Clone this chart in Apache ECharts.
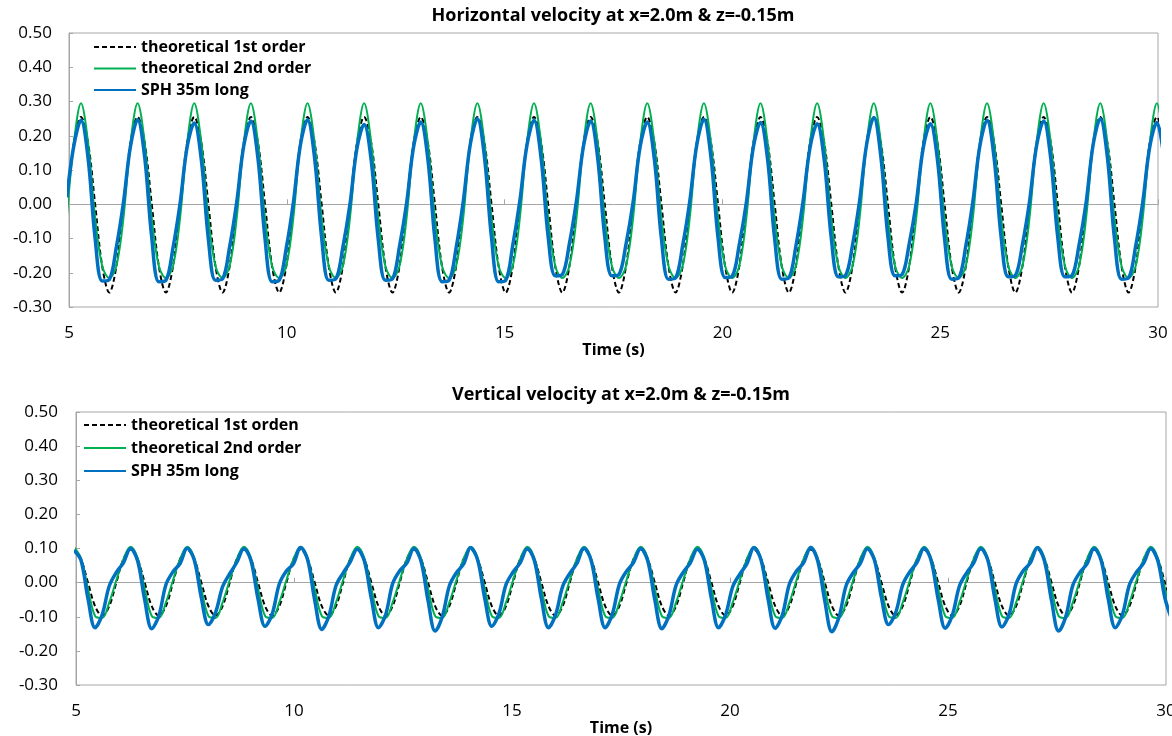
<!DOCTYPE html>
<html>
<head>
<meta charset="utf-8">
<title>Velocity at x=2.0m &amp; z=-0.15m</title>
<script src="https://cdn.jsdelivr.net/npm/echarts/dist/echarts.min.js"></script>
<style>
  html, body { margin: 0; padding: 0; background: #fff; }
  #chart { width: 1172px; height: 736px; }
</style>
</head>
<body>
<div id="chart"></div>
<script>
// time samples (s), one row per wave period (T = 1.3 s)
const time = [
  4.95, 5.1125, 5.275, 5.4375, 5.6, 5.7625, 5.925, 6.0875,
  6.25, 6.4125, 6.575, 6.7375, 6.9, 7.0625, 7.225, 7.3875,
  7.55, 7.7125, 7.875, 8.0375, 8.2, 8.3625, 8.525, 8.6875,
  8.85, 9.0125, 9.175, 9.3375, 9.5, 9.6625, 9.825, 9.9875,
  10.15, 10.3125, 10.475, 10.6375, 10.8, 10.9625, 11.125, 11.2875,
  11.45, 11.6125, 11.775, 11.9375, 12.1, 12.2625, 12.425, 12.5875,
  12.75, 12.9125, 13.075, 13.2375, 13.4, 13.5625, 13.725, 13.8875,
  14.05, 14.2125, 14.375, 14.5375, 14.7, 14.8625, 15.025, 15.1875,
  15.35, 15.5125, 15.675, 15.8375, 16.0, 16.1625, 16.325, 16.4875,
  16.65, 16.8125, 16.975, 17.1375, 17.3, 17.4625, 17.625, 17.7875,
  17.95, 18.1125, 18.275, 18.4375, 18.6, 18.7625, 18.925, 19.0875,
  19.25, 19.4125, 19.575, 19.7375, 19.9, 20.0625, 20.225, 20.3875,
  20.55, 20.7125, 20.875, 21.0375, 21.2, 21.3625, 21.525, 21.6875,
  21.85, 22.0125, 22.175, 22.3375, 22.5, 22.6625, 22.825, 22.9875,
  23.15, 23.3125, 23.475, 23.6375, 23.8, 23.9625, 24.125, 24.2875,
  24.45, 24.6125, 24.775, 24.9375, 25.1, 25.2625, 25.425, 25.5875,
  25.75, 25.9125, 26.075, 26.2375, 26.4, 26.5625, 26.725, 26.8875,
  27.05, 27.2125, 27.375, 27.5375, 27.7, 27.8625, 28.025, 28.1875,
  28.35, 28.5125, 28.675, 28.8375, 29.0, 29.1625, 29.325, 29.4875,
  29.65, 29.8125, 29.975, 30.1375
];

// horizontal velocity (m/s)
const hFirst = [
  0.000, 0.180, 0.255, 0.180, 0.000, -0.181, -0.258, -0.181,
  0.000, 0.180, 0.255, 0.180, 0.000, -0.181, -0.258, -0.181,
  0.000, 0.180, 0.255, 0.180, 0.000, -0.181, -0.258, -0.181,
  0.000, 0.180, 0.255, 0.180, 0.000, -0.181, -0.258, -0.181,
  0.000, 0.180, 0.255, 0.180, 0.000, -0.181, -0.258, -0.181,
  0.000, 0.180, 0.255, 0.180, 0.000, -0.181, -0.258, -0.181,
  0.000, 0.180, 0.255, 0.180, 0.000, -0.181, -0.258, -0.181,
  0.000, 0.180, 0.255, 0.180, 0.000, -0.181, -0.258, -0.181,
  0.000, 0.180, 0.255, 0.180, 0.000, -0.181, -0.258, -0.181,
  0.000, 0.180, 0.255, 0.180, 0.000, -0.181, -0.258, -0.181,
  0.000, 0.180, 0.255, 0.180, 0.000, -0.181, -0.258, -0.181,
  0.000, 0.180, 0.255, 0.180, 0.000, -0.181, -0.258, -0.181,
  0.000, 0.180, 0.255, 0.180, 0.000, -0.181, -0.258, -0.181,
  0.000, 0.180, 0.255, 0.180, 0.000, -0.181, -0.258, -0.181,
  0.000, 0.180, 0.255, 0.180, 0.000, -0.181, -0.258, -0.181,
  0.000, 0.180, 0.255, 0.180, 0.000, -0.181, -0.258, -0.181,
  0.000, 0.180, 0.255, 0.180, 0.000, -0.181, -0.258, -0.181,
  0.000, 0.180, 0.255, 0.180, 0.000, -0.181, -0.258, -0.181,
  0.000, 0.180, 0.255, 0.180, 0.000, -0.181, -0.258, -0.181,
  0.000, 0.180, 0.255, 0.180
];
const hSecond = [
  -0.040, 0.180, 0.295, 0.180, -0.040, -0.180, -0.215, -0.180,
  -0.040, 0.180, 0.295, 0.180, -0.040, -0.180, -0.215, -0.180,
  -0.040, 0.180, 0.295, 0.180, -0.040, -0.180, -0.215, -0.180,
  -0.040, 0.180, 0.295, 0.180, -0.040, -0.180, -0.215, -0.180,
  -0.040, 0.180, 0.295, 0.180, -0.040, -0.180, -0.215, -0.180,
  -0.040, 0.180, 0.295, 0.180, -0.040, -0.180, -0.215, -0.180,
  -0.040, 0.180, 0.295, 0.180, -0.040, -0.180, -0.215, -0.180,
  -0.040, 0.180, 0.295, 0.180, -0.040, -0.180, -0.215, -0.180,
  -0.040, 0.180, 0.295, 0.180, -0.040, -0.180, -0.215, -0.180,
  -0.040, 0.180, 0.295, 0.180, -0.040, -0.180, -0.215, -0.180,
  -0.040, 0.180, 0.295, 0.180, -0.040, -0.180, -0.215, -0.180,
  -0.040, 0.180, 0.295, 0.180, -0.040, -0.180, -0.215, -0.180,
  -0.040, 0.180, 0.295, 0.180, -0.040, -0.180, -0.215, -0.180,
  -0.040, 0.180, 0.295, 0.180, -0.040, -0.180, -0.215, -0.180,
  -0.040, 0.180, 0.295, 0.180, -0.040, -0.180, -0.215, -0.180,
  -0.040, 0.180, 0.295, 0.180, -0.040, -0.180, -0.215, -0.180,
  -0.040, 0.180, 0.295, 0.180, -0.040, -0.180, -0.215, -0.180,
  -0.040, 0.180, 0.295, 0.180, -0.040, -0.180, -0.215, -0.180,
  -0.040, 0.180, 0.295, 0.180, -0.040, -0.180, -0.215, -0.180,
  -0.040, 0.180, 0.295, 0.180
];
const hSph = [
  0.020, 0.172, 0.245, 0.135, -0.100, -0.224, -0.220, -0.125,
  0.005, 0.170, 0.247, 0.137, -0.098, -0.226, -0.222, -0.127,
  0.002, 0.168, 0.237, 0.130, -0.102, -0.222, -0.218, -0.124,
  0.006, 0.171, 0.243, 0.134, -0.100, -0.226, -0.222, -0.128,
  0.004, 0.173, 0.247, 0.136, -0.097, -0.222, -0.218, -0.125,
  0.000, 0.165, 0.233, 0.128, -0.103, -0.222, -0.218, -0.123,
  0.003, 0.169, 0.240, 0.133, -0.101, -0.226, -0.222, -0.127,
  0.007, 0.175, 0.250, 0.138, -0.098, -0.226, -0.222, -0.120,
  0.010, 0.172, 0.245, 0.135, -0.095, -0.209, -0.205, -0.115,
  0.010, 0.171, 0.243, 0.134, -0.096, -0.209, -0.205, -0.116,
  0.006, 0.169, 0.240, 0.132, -0.100, -0.219, -0.215, -0.121,
  0.008, 0.174, 0.248, 0.137, -0.098, -0.214, -0.210, -0.118,
  0.005, 0.168, 0.239, 0.131, -0.101, -0.219, -0.215, -0.122,
  0.007, 0.166, 0.235, 0.129, -0.099, -0.212, -0.208, -0.119,
  0.010, 0.176, 0.253, 0.139, -0.095, -0.209, -0.205, -0.116,
  0.004, 0.166, 0.235, 0.129, -0.100, -0.219, -0.215, -0.122,
  0.008, 0.172, 0.245, 0.135, -0.097, -0.212, -0.208, -0.118,
  0.007, 0.171, 0.243, 0.134, -0.098, -0.212, -0.208, -0.119,
  0.005, 0.175, 0.250, 0.138, -0.099, -0.219, -0.215, -0.122,
  0.006, 0.169, 0.239, 0.132
];

// vertical velocity (m/s)
const vFirst = [
  0.097, 0.069, 0.000, -0.069, -0.097, -0.069, 0.000, 0.069,
  0.097, 0.069, 0.000, -0.069, -0.097, -0.069, 0.000, 0.069,
  0.097, 0.069, 0.000, -0.069, -0.097, -0.069, 0.000, 0.069,
  0.097, 0.069, 0.000, -0.069, -0.097, -0.069, 0.000, 0.069,
  0.097, 0.069, 0.000, -0.069, -0.097, -0.069, 0.000, 0.069,
  0.097, 0.069, 0.000, -0.069, -0.097, -0.069, 0.000, 0.069,
  0.097, 0.069, 0.000, -0.069, -0.097, -0.069, 0.000, 0.069,
  0.097, 0.069, 0.000, -0.069, -0.097, -0.069, 0.000, 0.069,
  0.097, 0.069, 0.000, -0.069, -0.097, -0.069, 0.000, 0.069,
  0.097, 0.069, 0.000, -0.069, -0.097, -0.069, 0.000, 0.069,
  0.097, 0.069, 0.000, -0.069, -0.097, -0.069, 0.000, 0.069,
  0.097, 0.069, 0.000, -0.069, -0.097, -0.069, 0.000, 0.069,
  0.097, 0.069, 0.000, -0.069, -0.097, -0.069, 0.000, 0.069,
  0.097, 0.069, 0.000, -0.069, -0.097, -0.069, 0.000, 0.069,
  0.097, 0.069, 0.000, -0.069, -0.097, -0.069, 0.000, 0.069,
  0.097, 0.069, 0.000, -0.069, -0.097, -0.069, 0.000, 0.069,
  0.097, 0.069, 0.000, -0.069, -0.097, -0.069, 0.000, 0.069,
  0.097, 0.069, 0.000, -0.069, -0.097, -0.069, 0.000, 0.069,
  0.097, 0.069, 0.000, -0.069, -0.097, -0.069, 0.000, 0.069,
  0.097, 0.069, 0.000, -0.069
];
const vSecond = [
  0.105, 0.072, -0.018, -0.098, -0.104, -0.058, 0.007, 0.069,
  0.105, 0.072, -0.018, -0.098, -0.104, -0.058, 0.007, 0.069,
  0.105, 0.072, -0.018, -0.098, -0.104, -0.058, 0.007, 0.069,
  0.105, 0.072, -0.018, -0.098, -0.104, -0.058, 0.007, 0.069,
  0.105, 0.072, -0.018, -0.098, -0.104, -0.058, 0.007, 0.069,
  0.105, 0.072, -0.018, -0.098, -0.104, -0.058, 0.007, 0.069,
  0.105, 0.072, -0.018, -0.098, -0.104, -0.058, 0.007, 0.069,
  0.105, 0.072, -0.018, -0.098, -0.104, -0.058, 0.007, 0.069,
  0.105, 0.072, -0.018, -0.098, -0.104, -0.058, 0.007, 0.069,
  0.105, 0.072, -0.018, -0.098, -0.104, -0.058, 0.007, 0.069,
  0.105, 0.072, -0.018, -0.098, -0.104, -0.058, 0.007, 0.069,
  0.105, 0.072, -0.018, -0.098, -0.104, -0.058, 0.007, 0.069,
  0.105, 0.072, -0.018, -0.098, -0.104, -0.058, 0.007, 0.069,
  0.105, 0.072, -0.018, -0.098, -0.104, -0.058, 0.007, 0.069,
  0.105, 0.072, -0.018, -0.098, -0.104, -0.058, 0.007, 0.069,
  0.105, 0.072, -0.018, -0.098, -0.104, -0.058, 0.007, 0.069,
  0.105, 0.072, -0.018, -0.098, -0.104, -0.058, 0.007, 0.069,
  0.105, 0.072, -0.018, -0.098, -0.104, -0.058, 0.007, 0.069,
  0.105, 0.072, -0.018, -0.098, -0.104, -0.058, 0.007, 0.069,
  0.105, 0.072, -0.018, -0.098
];
const vSph = [
  0.095, 0.066, -0.047, -0.132, -0.094, -0.010, 0.030, 0.058,
  0.100, 0.064, -0.050, -0.135, -0.097, -0.006, 0.032, 0.056,
  0.101, 0.066, -0.045, -0.123, -0.088, -0.012, 0.026, 0.059,
  0.099, 0.065, -0.048, -0.128, -0.092, -0.004, 0.034, 0.055,
  0.103, 0.067, -0.051, -0.137, -0.098, -0.009, 0.028, 0.060,
  0.098, 0.064, -0.047, -0.132, -0.095, -0.003, 0.035, 0.057,
  0.100, 0.063, -0.053, -0.142, -0.100, -0.010, 0.029, 0.054,
  0.102, 0.066, -0.046, -0.128, -0.091, -0.006, 0.031, 0.058,
  0.099, 0.065, -0.048, -0.132, -0.094, -0.011, 0.027, 0.056,
  0.101, 0.066, -0.047, -0.132, -0.093, -0.005, 0.033, 0.059,
  0.100, 0.064, -0.050, -0.135, -0.096, -0.008, 0.030, 0.057,
  0.098, 0.065, -0.048, -0.132, -0.094, -0.012, 0.025, 0.055,
  0.102, 0.066, -0.049, -0.134, -0.095, -0.004, 0.034, 0.058,
  0.103, 0.063, -0.054, -0.144, -0.101, -0.009, 0.029, 0.056,
  0.099, 0.066, -0.045, -0.123, -0.088, -0.006, 0.032, 0.059,
  0.101, 0.065, -0.049, -0.134, -0.095, -0.010, 0.028, 0.057,
  0.100, 0.066, -0.047, -0.130, -0.093, -0.003, 0.035, 0.058,
  0.102, 0.063, -0.053, -0.142, -0.100, -0.008, 0.030, 0.055,
  0.100, 0.065, -0.048, -0.132, -0.094, -0.006, 0.031, 0.057,
  0.099, 0.064, -0.045, -0.110
];

const yTicks = { min: -0.3, max: 0.5, step: 0.1 };
const xTicks = { min: 5, max: 30, step: 5 };

const FONT = 'Open Sans';
const BORDER = '#a6a6a6';

function pairs(vals) {
  return time.map((t, i) => [t, vals[i]]);
}

// bottom axis carrying the labels and the name
function labelXAxis(gridIndex) {
  return {
    type: 'value', gridIndex: gridIndex, position: 'bottom',
    min: xTicks.min, max: xTicks.max, interval: xTicks.step,
    axisLine: { show: false, onZero: false },
    axisTick: { show: false },
    splitLine: { show: false },
    axisLabel: { margin: 18, fontFamily: FONT, fontSize: 17, color: '#000',
                 showMinLabel: true, showMaxLabel: true },
    name: 'Time (s)', nameLocation: 'middle', nameGap: 34,
    nameTextStyle: { fontFamily: FONT, fontSize: 16, fontWeight: 'bold', color: '#000' }
  };
}

// grey line at y = 0 with small tick marks
function zeroXAxis(gridIndex) {
  return {
    type: 'value', gridIndex: gridIndex, position: 'top',
    min: xTicks.min, max: xTicks.max, interval: xTicks.step,
    axisLine: { show: true, onZero: true, lineStyle: { color: BORDER, width: 1 } },
    axisTick: { show: true, inside: false, length: 5, lineStyle: { color: BORDER } },
    axisLabel: { show: false },
    splitLine: { show: false }
  };
}

function yAxis(gridIndex, margin) {
  return {
    type: 'value', gridIndex: gridIndex,
    min: yTicks.min, max: yTicks.max, interval: yTicks.step,
    axisLine: { show: true, lineStyle: { color: BORDER } },
    axisTick: { show: true, inside: true, length: 4, lineStyle: { color: BORDER } },
    splitLine: { show: false },
    axisLabel: { margin: margin, fontFamily: FONT, fontSize: 17, color: '#000',
                 formatter: v => v.toFixed(2) }
  };
}

function line(name, vals, xi, yi, kind) {
  const styles = {
    first: { color: '#000000', width: 2, type: [5, 3] },
    second: { color: '#00b050', width: 2, type: 'solid' },
    sph: { color: '#0070c0', width: 3.5, type: 'solid' }
  };
  const ls = styles[kind];
  return {
    name: name, type: 'line', xAxisIndex: xi, yAxisIndex: yi,
    data: pairs(vals), symbol: 'none', smooth: 0.35, clip: true,
    color: ls.color,
    itemStyle: { opacity: 0 },
    lineStyle: { color: ls.color, width: ls.width, type: ls.type },
    emphasis: { disabled: true }
  };
}

function legend(left, top, gap, names) {
  return {
    orient: 'vertical', left: left, top: top, padding: 0,
    itemWidth: 42, itemHeight: 16, itemGap: gap,
    data: names,
    itemStyle: { opacity: 0 },
    textStyle: { fontFamily: FONT, fontSize: 16, fontWeight: 'bold', color: '#000' }
  };
}

const titleStyle = { fontFamily: FONT, fontSize: 18, fontWeight: 'bold', color: '#000' };

const chart = echarts.init(document.getElementById('chart'), null, { renderer: 'canvas' });
chart.setOption({
  animation: false,
  backgroundColor: '#fff',
  title: [
    { text: 'Horizontal velocity at x=2.0m & z=-0.15m', left: 613, top: 7,
      textAlign: 'center', padding: 0, textStyle: titleStyle },
    { text: 'Vertical velocity at x=2.0m & z=-0.15m', left: 621, top: 386,
      textAlign: 'center', padding: 0, textStyle: titleStyle }
  ],
  legend: [
    legend(93, 39, 5.5, ['theoretical 1st order', 'theoretical 2nd order', 'SPH 35m long']),
    legend(83, 417, 7, ['theoretical 1st orden', 'theoretical 2nd order', 'SPH 35m long'])
  ],
  grid: [
    { left: 69, right: 14, top: 33, height: 274, show: true, borderColor: BORDER,
      borderWidth: 1, containLabel: false, outerBoundsMode: 'none' },
    { left: 76, right: 6, top: 412, height: 273, show: true, borderColor: BORDER,
      borderWidth: 1, containLabel: false, outerBoundsMode: 'none' }
  ],
  xAxis: [labelXAxis(0), zeroXAxis(0), labelXAxis(1), zeroXAxis(1)],
  yAxis: [yAxis(0, 17), yAxis(1, 18)],
  series: [
    line('theoretical 1st order', hFirst, 0, 0, 'first'),
    line('theoretical 2nd order', hSecond, 0, 0, 'second'),
    line('SPH 35m long', hSph, 0, 0, 'sph'),
    line('theoretical 1st orden', vFirst, 2, 1, 'first'),
    line('theoretical 2nd order', vSecond, 2, 1, 'second'),
    line('SPH 35m long', vSph, 2, 1, 'sph')
  ]
});
</script>
</body>
</html>
